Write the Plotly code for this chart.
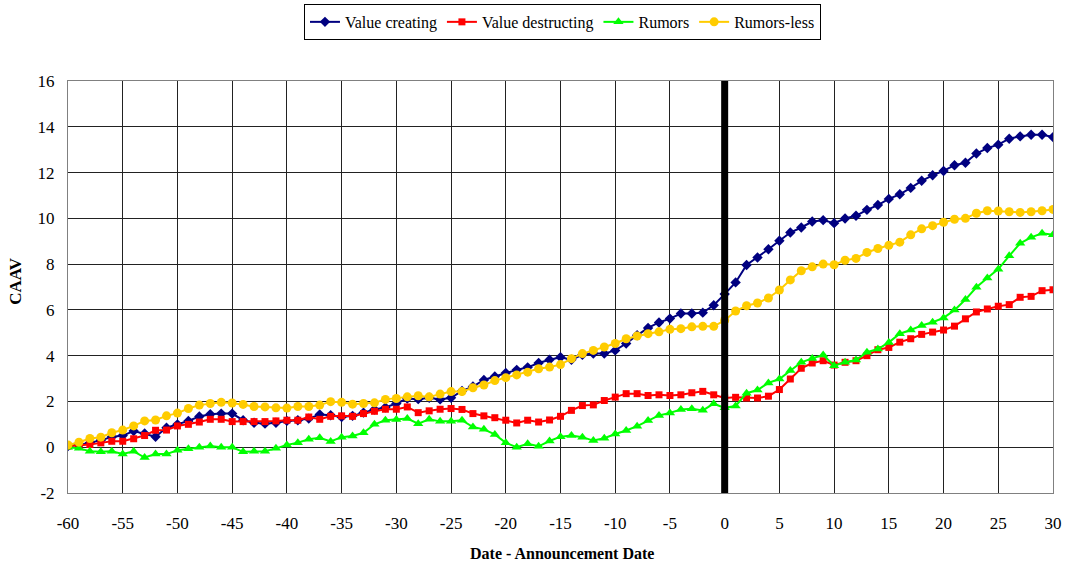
import plotly.graph_objects as go

days = list(range(-60, 31))

x_tickvals = list(range(-60, 31, 5))
x_ticktext = [str(v) for v in x_tickvals]
y_tickvals = list(range(-2, 17, 2))
y_ticktext = [str(v) for v in y_tickvals]

value_creating = [0.05, 0.1, 0.2, 0.3, 0.45, 0.51, 0.71, 0.6, 0.46, 0.85, 1.0, 1.15, 1.34, 1.44, 1.47, 1.47, 1.18, 1.07, 1.03, 1.07, 1.15, 1.18,
                  1.25, 1.43, 1.4, 1.32, 1.37, 1.51, 1.65, 1.74, 1.91, 2.13, 2.1, 2.16, 2.09, 2.16, 2.46, 2.65, 2.94, 3.09, 3.24, 3.38, 3.49, 3.68, 3.82,
                  3.93, 3.82, 4.04, 4.09, 4.09, 4.23, 4.53, 4.89, 5.21, 5.45, 5.62, 5.84, 5.84, 5.88, 6.2, 6.69,
                  7.2, 7.96, 8.29, 8.65, 9.02, 9.38, 9.6, 9.86, 9.92, 9.79, 9.99, 10.11, 10.37, 10.58, 10.85,
                  11.05, 11.33, 11.64, 11.88, 12.07, 12.32, 12.43, 12.83, 13.07, 13.22, 13.48, 13.58, 13.65, 13.65, 13.55]

value_destructing = [0.05, 0.08, 0.12, 0.19, 0.26, 0.26, 0.37, 0.51, 0.74, 0.75, 0.93, 1.0, 1.1, 1.22, 1.22, 1.12, 1.12, 1.12, 1.12, 1.15, 1.18, 1.18,
                     1.32, 1.22, 1.35, 1.37, 1.35, 1.47, 1.57, 1.66, 1.66, 1.76, 1.51, 1.59, 1.66, 1.69, 1.65, 1.47, 1.37, 1.29, 1.18, 1.06, 1.18, 1.1, 1.19,
                     1.35, 1.61, 1.82, 1.85, 2.04, 2.19, 2.34, 2.34, 2.26, 2.29, 2.26, 2.29, 2.38, 2.44, 2.29, 2.15,
                     2.18, 2.15, 2.15, 2.23, 2.52, 2.98, 3.45, 3.68, 3.78, 3.59, 3.71, 3.78, 4.0, 4.26, 4.36,
                     4.59, 4.74, 4.93, 5.03, 5.12, 5.29, 5.61, 5.91, 6.04, 6.16, 6.23, 6.55, 6.59, 6.84, 6.88]

rumors = [0.0, -0.05, -0.18, -0.2, -0.18, -0.3, -0.18, -0.45, -0.3, -0.3, -0.13, -0.07, 0.0, 0.05, 0.0, 0.0, -0.2, -0.18, -0.18, -0.05, 0.1, 0.2,
          0.35, 0.41, 0.25, 0.44, 0.49, 0.63, 1.0, 1.18, 1.21, 1.25, 1.03, 1.22, 1.13, 1.13, 1.18, 0.88, 0.78, 0.56, 0.19, 0.0, 0.15, 0.04, 0.27,
          0.46, 0.51, 0.44, 0.29, 0.39, 0.58, 0.73, 0.92, 1.17, 1.39, 1.5, 1.65, 1.68, 1.61, 1.9, 1.72,
          1.8, 2.36, 2.5, 2.81, 2.98, 3.35, 3.71, 3.88, 4.03, 3.56, 3.71, 3.81, 4.15, 4.29, 4.58,
          4.96, 5.12, 5.32, 5.46, 5.65, 5.99, 6.45, 6.99, 7.39, 7.78, 8.36, 8.91, 9.17, 9.35, 9.28]

rumors_less = [0.1, 0.22, 0.38, 0.44, 0.63, 0.75, 0.93, 1.15, 1.19, 1.37, 1.49, 1.69, 1.84, 1.91, 1.96, 1.93, 1.87, 1.78, 1.76, 1.72, 1.71, 1.78,
               1.78, 1.84, 1.99, 1.96, 1.88, 1.91, 1.94, 2.09, 2.13, 2.2, 2.25, 2.2, 2.32, 2.43, 2.43, 2.6, 2.72, 2.91, 3.04, 3.16, 3.28, 3.43, 3.5,
               3.61, 3.87, 4.09, 4.23, 4.38, 4.53, 4.74, 4.86, 4.96, 5.04, 5.15, 5.18, 5.26, 5.28, 5.28, 5.54,
               5.95, 6.18, 6.3, 6.52, 6.87, 7.31, 7.71, 7.88, 8.0, 7.97, 8.17, 8.25, 8.51, 8.68, 8.82,
               8.96, 9.28, 9.54, 9.68, 9.83, 9.96, 10.0, 10.22, 10.33, 10.32, 10.29, 10.26, 10.29, 10.33, 10.39]

series = [
    ("Value creating", value_creating, "#000080", "diamond", 8),
    ("Value destructing", value_destructing, "#FF0000", "square", 7),
    ("Rumors", rumors, "#00FF00", "triangle-up", 9),
    ("Rumors-less", rumors_less, "#FFCC00", "circle", 9),
]

fig = go.Figure()
for name, vals, color, sym, size in series:
    fig.add_trace(go.Scatter(
        x=days, y=vals, name=name, mode="lines+markers",
        line=dict(color=color, width=2),
        marker=dict(symbol=sym, size=size, color=color),
    ))

fig.add_shape(type="line", xref="x", yref="paper", x0=0, x1=0, y0=0, y1=1,
              line=dict(color="black", width=7))

font_family = "Liberation Serif"

fig.add_annotation(text="<b>Date - Announcement Date</b>", xref="paper", yref="paper",
                   x=0.5015, y=-0.146, xanchor="center", yanchor="middle", showarrow=False,
                   font=dict(family=font_family, size=16, color="black"))
fig.add_annotation(text="<b>CAAV</b>", xref="paper", yref="paper", textangle=-90,
                   x=-0.0528, y=0.515, xanchor="center", yanchor="middle", showarrow=False,
                   font=dict(family=font_family, size=17, color="black"))

fig.update_layout(
    width=1071, height=568,
    margin=dict(l=68, r=18, t=81, b=75, autoexpand=False),
    paper_bgcolor="white", plot_bgcolor="white",
    font=dict(family=font_family, size=17, color="black"),
    showlegend=True,
    legend=dict(orientation="h", x=0.502, xanchor="center", y=1.187, yanchor="top",
                bordercolor="black", borderwidth=1, font=dict(family=font_family, size=16),
                tracegroupgap=0),
    xaxis=dict(range=[-60, 30], tickmode="array", tickvals=x_tickvals, ticktext=x_ticktext,
               showgrid=True, gridcolor="#222222", gridwidth=1, automargin=False,
               showline=True, linecolor="#808080", linewidth=1, mirror=True,
               zeroline=False, ticks="", ticklabelstandoff=15,
               tickfont=dict(family=font_family, size=17)),
    yaxis=dict(range=[-2, 16], tickmode="array", tickvals=y_tickvals, ticktext=y_ticktext,
               automargin=False,
               showgrid=True, gridcolor="#222222", gridwidth=1,
               showline=True, linecolor="#808080", linewidth=1, mirror=True,
               zeroline=False, ticks="", ticklabelstandoff=9,
               tickfont=dict(family=font_family, size=17)),
)

fig.write_html("out.html", config={"displayModeBar": False},
               post_script="document.body.style.margin='0';")
